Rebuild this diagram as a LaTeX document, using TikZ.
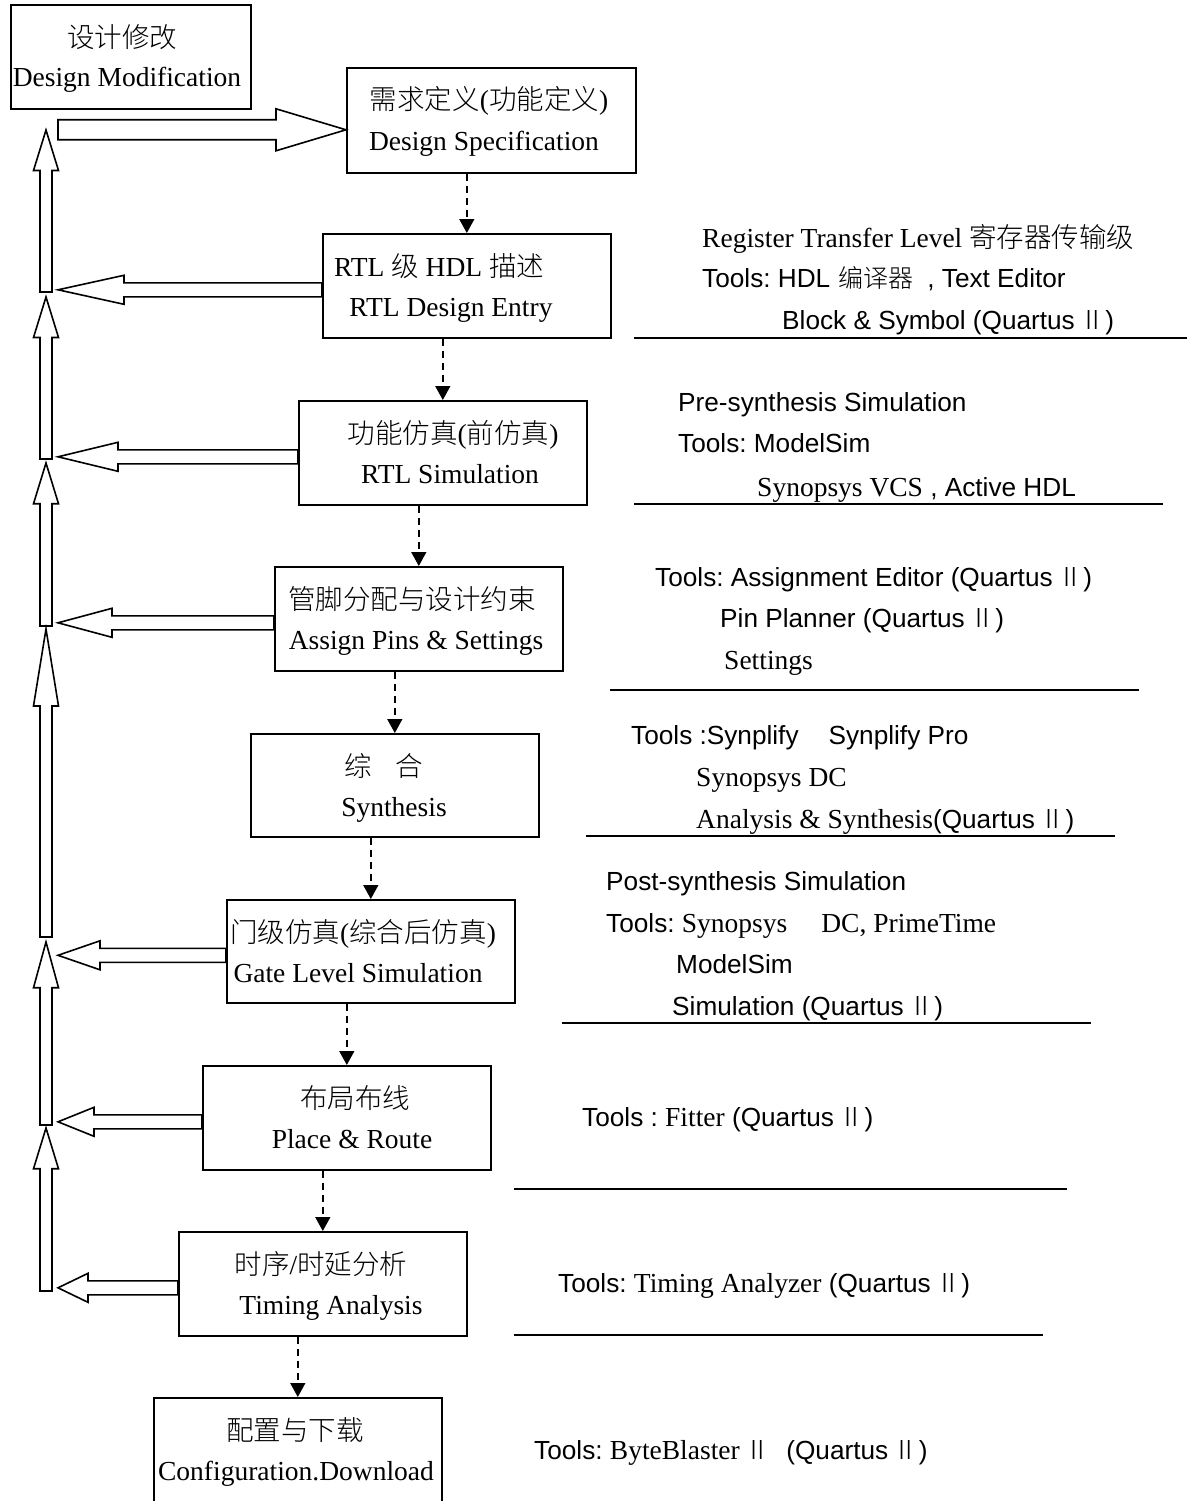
\documentclass[tikz,border=0pt]{standalone}
\usepackage{fontspec}
\setmainfont{Liberation Serif}
\newfontfamily\arial{Liberation Sans}
\newfontfamily\cjk{Noto Sans CJK SC Light}
\usetikzlibrary{calc,arrows.meta}
\frenchspacing

\newcommand\zh[1]{{\cjk #1}}
\newcommand\rn{{\cjk Ⅱ}}

\tikzset{
  stagebox/.style={draw, line width=1.6pt, minimum width=288pt, minimum height=104pt,
                   anchor=north west, inner sep=0pt},
  boxtext/.style={anchor=base, inner sep=0pt, font=\fontsize{27.5}{30}\selectfont},
  toolline/.style={anchor=base west, inner sep=0pt, font=\arial\fontsize{26.2}{28}\selectfont},
  toolrule/.style={line width=1.6pt},
  flow/.style={line width=1.5pt, dash pattern=on 7pt off 5pt,
               -{Triangle[length=14pt,width=15pt]}},
  hollow/.style={draw, line width=1.6pt, fill=white, line join=miter},
}

% hollow block arrow pointing from a stage box back to the left column
\newcommand\backarrow[1]{%
  \draw[hollow] let \p1=(#1.west), \n1={0.25*(\x1-58pt)} in
    ({58pt},{\y1-4pt}) -- ++(\n1,-14.5) -- ++(0,7.5)
    -- ({\x1},{\y1-4pt+7pt}) -- ({\x1},{\y1-4pt-7pt})
    -- ({58pt+\n1*1pt},{\y1-4pt-7pt}) -- ++(0,7.5) -- cycle;}

% hollow upward block arrow of the left column: tip at #1, foot at #2
\newcommand\upblock[2]{%
  \draw[hollow] let \n1={0.25*(#2-#1)} in
    (46,#1) -- (58.5,{#1+\n1}) -- (52,{#1+\n1}) -- (52,#2)
    -- (40,#2) -- (40,{#1+\n1}) -- (33.5,{#1+\n1}) -- cycle;}

\begin{document}
\begin{tikzpicture}[x=1pt,y=-1pt]
\useasboundingbox (0,0) rectangle (1190,1501);
\clip (0,0) rectangle (1190,1501);
\fill[white] (0,0) rectangle (1190,1501);

% ---- stage boxes ----
\node[stagebox, minimum width=240pt] (dm) at (10,4) {};
\node[stagebox, minimum width=289pt, minimum height=105pt] (spec) at (346,67) {};
\node[stagebox] (rtl)  at (322,233) {};
\node[stagebox] (sim)  at (298,400) {};
\node[stagebox] (pins) at (274,566) {};
\node[stagebox, minimum height=103pt] (syn)  at (250,733) {};
\node[stagebox, minimum height=103pt] (gate) at (226,899) {};
\node[stagebox] (pr)   at (202,1065) {};
\node[stagebox] (ta)   at (178,1231) {};
\node[stagebox, minimum height=140pt] (cfg) at (153,1397) {};

% ---- box captions ----
\node[boxtext] (dm-zh) at (122,48) {\zh{设计修改}};
\node[boxtext] (dm-en) at (127,87) {Design Modification};
\node[boxtext] (spec-zh) at (489,110) {\zh{需求定义}(\zh{功能定义})};
\node[boxtext] (spec-en) at (484,150) {Design Specification};
\node[boxtext, anchor=base west] (rtl-zh) at (334,276) {RTL \zh{级} HDL \zh{描述}};
\node[boxtext] (rtl-en) at (451,316) {RTL Design Entry};
\node[boxtext] (sim-zh) at (453,443) {\zh{功能仿真}(\zh{前仿真})};
\node[boxtext] (sim-en) at (450,483) {RTL Simulation};
\node[boxtext] (pins-zh) at (412,609) {\zh{管脚分配与设计约束}};
\node[boxtext] (pins-en) at (416,649) {Assign Pins \& Settings};
\node[boxtext] (syn-zh) at (384,776) {\zh{综}\hspace{24pt}\zh{合}};
\node[boxtext] (syn-en) at (394,816) {Synthesis};
\node[boxtext] (gate-zh) at (363,942) {\zh{门级仿真}(\zh{综合后仿真})};
\node[boxtext] (gate-en) at (358,982) {Gate Level Simulation};
\node[boxtext] (pr-zh) at (355,1108) {\zh{布局布线}};
\node[boxtext] (pr-en) at (352,1148) {Place \& Route};
\node[boxtext] (ta-zh) at (321,1274) {\zh{时序}/\zh{时延分析}};
\node[boxtext] (ta-en) at (331,1314) {Timing Analysis};
\node[boxtext] (cfg-zh) at (295,1440) {\zh{配置与下载}};
\node[boxtext] (cfg-en) at (296,1480) {Configuration.Download};

% ---- main flow (dashed) ----
\draw[flow] (spec.south -| rtl.north) -- (rtl.north);
\draw[flow] (rtl.south -| sim.north) -- (sim.north);
\draw[flow] (sim.south -| pins.north) -- (pins.north);
\draw[flow] (pins.south -| syn.north) -- (syn.north);
\draw[flow] (syn.south -| gate.north) -- (gate.north);
\draw[flow] (gate.south -| pr.north) -- (pr.north);
\draw[flow] (pr.south -| ta.north) -- (ta.north);
\draw[flow] (ta.south -| cfg.north) -- (cfg.north);

% ---- feedback column ----
\upblock{130}{292}
\upblock{297}{459}
\upblock{463}{626}
\upblock{629}{937}
\upblock{942}{1125}
\upblock{1128}{1291}

\backarrow{rtl}
\backarrow{sim}
\backarrow{pins}
\backarrow{gate}
\backarrow{pr}
\backarrow{ta}

% modification feeds the specification again
\draw[hollow] let \p1=(spec.west) in
  ({\x1},{\y1-9.5pt}) -- ++(-70,-21) -- ++(0,11)
  -- ({58pt},{\y1-9.5pt+10pt}) -- ({58pt},{\y1-9.5pt-10pt})
  -- ({\x1-70pt},{\y1-9.5pt-10pt}) -- ++(0,11) -- cycle;

% ---- tool notes ----
\node[toolline, font=\fontsize{27.5}{30}\selectfont] (n1) at (702,247) {Register Transfer Level \zh{寄存器传输级}};
\node[toolline] (n2) at (702,287) {Tools: HDL\hspace{8pt}{\fontsize{25}{28}\selectfont\zh{编译器}}\hspace{14pt}, Text Editor};
\node[toolline] (n3) at (782,329) {Block \& Symbol (Quartus\,\rn)};
\draw[toolrule] (634,338) -- (1187,338);

\node[toolline] (n4) at (678,411) {Pre-synthesis Simulation};
\node[toolline] (n5) at (678,452) {Tools: ModelSim};
\node[toolline] (n6) at (757,496) {{\rmfamily\fontsize{27.5}{30}\selectfont Synopsys VCS} , Active HDL};
\draw[toolrule] (634,504) -- (1163,504);

\node[toolline] (n7) at (655,586) {Tools: Assignment Editor (Quartus\,\rn)};
\node[toolline] (n8) at (720,627) {Pin Planner (Quartus\,\rn)};
\node[toolline, font=\fontsize{27.5}{30}\selectfont] (n9) at (724,669) {Settings};
\draw[toolrule] (610,690) -- (1139,690);

\node[toolline] (n10) at (631,744) {Tools :Synplify\hspace{30pt}Synplify Pro};
\node[toolline, font=\fontsize{27.5}{30}\selectfont] (n11) at (696,786) {Synopsys DC};
\node[toolline, font=\fontsize{27.5}{30}\selectfont] (n12) at (696,828) {Analysis \& Synthesis{\arial\fontsize{26.2}{28}\selectfont(Quartus\,\rn)}};
\draw[toolrule] (586,836) -- (1115,836);

\node[toolline] (n13) at (606,890) {Post-synthesis Simulation};
\node[toolline] (n14) at (606,932) {Tools: {\rmfamily\fontsize{27.5}{30}\selectfont Synopsys\hspace{34pt}DC, PrimeTime}};
\node[toolline] (n15) at (676,973) {ModelSim};
\node[toolline] (n16) at (672,1015) {Simulation (Quartus\,\rn)};
\draw[toolrule] (562,1023) -- (1091,1023);

\node[toolline] (n17) at (582,1126) {Tools : {\rmfamily\fontsize{27.5}{30}\selectfont Fitter} (Quartus\,\rn)};
\draw[toolrule] (514,1189) -- (1067,1189);

\node[toolline] (n18) at (558,1292) {Tools: {\rmfamily\fontsize{27.5}{30}\selectfont Timing Analyzer} (Quartus\,\rn)};
\draw[toolrule] (514,1335) -- (1043,1335);

\node[toolline] (n19) at (534,1459) {Tools: {\rmfamily\fontsize{27.5}{30}\selectfont ByteBlaster}\,\rn\hspace{16pt}(Quartus\,\rn)};
\end{tikzpicture}
\end{document}
